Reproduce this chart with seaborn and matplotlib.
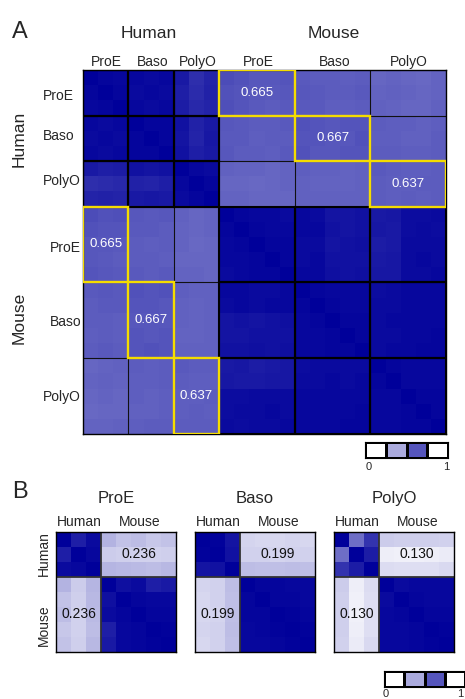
import numpy as np
import matplotlib
matplotlib.use("Agg")
import matplotlib.pyplot as plt
from matplotlib.colors import LinearSegmentedColormap, ListedColormap
from matplotlib.patches import Rectangle
import seaborn as sns

sns.set_style("white")
plt.rcParams['font.family'] = ['Liberation Sans', 'DejaVu Sans']

# ---- data (correlation x 100) ----
stages = ["ProE", "Baso", "PolyO"]
n_human = 3
n_mouse = 5

# panel A: human samples (3 per stage) vs mouse samples (5 per stage)
human_human = [
    [100, 98, 97, 97, 96, 97, 90, 82, 86],
    [98, 100, 98, 96, 97, 96, 88, 83, 87],
    [97, 98, 100, 97, 96, 97, 89, 84, 86],
    [97, 96, 97, 100, 98, 98, 93, 87, 90],
    [96, 97, 96, 98, 100, 98, 92, 86, 91],
    [97, 96, 97, 98, 98, 100, 93, 88, 90],
    [90, 88, 89, 93, 92, 93, 100, 97, 96],
    [82, 83, 84, 87, 86, 88, 97, 100, 98],
    [86, 87, 86, 90, 91, 90, 96, 98, 100],
]
human_mouse = [
    [70, 68, 66, 66, 67, 65, 64, 64, 63, 64, 60, 61, 60, 59, 61],
    [68, 67, 66, 65, 66, 66, 65, 64, 64, 65, 61, 62, 61, 60, 61],
    [69, 67, 65, 64, 65, 65, 65, 63, 63, 64, 62, 61, 60, 60, 62],
    [66, 65, 64, 64, 65, 68, 67, 66, 67, 67, 64, 63, 63, 62, 63],
    [65, 65, 63, 64, 64, 67, 67, 66, 66, 68, 63, 63, 62, 62, 64],
    [66, 64, 64, 63, 65, 68, 66, 66, 67, 67, 64, 64, 63, 63, 64],
    [62, 61, 61, 60, 61, 63, 62, 62, 61, 62, 65, 64, 63, 63, 64],
    [60, 60, 59, 60, 61, 62, 61, 61, 61, 62, 64, 63, 63, 64, 64],
    [61, 61, 60, 60, 60, 62, 62, 62, 62, 62, 64, 63, 64, 63, 64],
]
mouse_mouse = [
    [100, 98, 97, 97, 96, 97, 96, 92, 92, 93, 90, 91, 95, 95, 96],
    [98, 100, 98, 97, 97, 97, 97, 93, 92, 93, 91, 90, 95, 96, 95],
    [97, 98, 100, 98, 98, 96, 96, 92, 93, 94, 89, 90, 96, 96, 96],
    [97, 97, 98, 100, 98, 96, 97, 93, 93, 93, 90, 91, 96, 97, 96],
    [96, 97, 98, 98, 100, 97, 97, 94, 93, 94, 91, 91, 96, 96, 97],
    [97, 97, 96, 96, 97, 100, 98, 97, 97, 97, 95, 96, 97, 97, 97],
    [96, 97, 96, 97, 97, 98, 100, 98, 97, 97, 96, 96, 97, 97, 97],
    [92, 93, 92, 93, 94, 97, 98, 100, 98, 98, 96, 97, 97, 97, 97],
    [92, 92, 93, 93, 93, 97, 97, 98, 100, 98, 96, 96, 97, 97, 98],
    [93, 93, 94, 93, 94, 97, 97, 98, 98, 100, 96, 97, 97, 98, 98],
    [90, 91, 89, 90, 91, 95, 96, 96, 96, 96, 100, 98, 97, 97, 97],
    [91, 90, 90, 91, 91, 96, 96, 97, 96, 97, 98, 100, 97, 97, 97],
    [95, 95, 96, 96, 96, 97, 97, 97, 97, 97, 97, 97, 100, 98, 98],
    [95, 96, 96, 97, 96, 97, 97, 97, 97, 98, 97, 97, 98, 100, 98],
    [96, 95, 96, 96, 97, 97, 97, 97, 98, 98, 97, 97, 98, 98, 100],
]
cross_means_A = ["0.665", "0.667", "0.637"]

# panel B: per stage, 3 human + 5 mouse samples
proe_hh = [[100, 88, 96], [88, 100, 97], [96, 97, 100]]
proe_hm = [[30, 24, 26, 22, 24], [20, 19, 18, 18, 19], [29, 28, 27, 26, 28]]
proe_mm = [[100, 94, 96, 88, 90], [94, 100, 98, 97, 97], [96, 98, 100, 98, 98],
           [88, 97, 98, 100, 99], [90, 97, 98, 99, 100]]
baso_hh = [[100, 99, 92], [99, 100, 93], [92, 93, 100]]
baso_hm = [[17, 16, 16, 17, 16], [18, 18, 17, 18, 18], [26, 25, 25, 26, 25]]
baso_mm = [[100, 98, 98, 97, 97], [98, 100, 98, 98, 97], [98, 98, 100, 99, 98],
           [97, 98, 99, 100, 99], [97, 97, 98, 99, 100]]
polyo_hh = [[100, 57, 80], [57, 100, 89], [80, 89, 100]]
polyo_hm = [[20, 19, 19, 19, 18], [7, 6, 6, 7, 8], [14, 13, 13, 13, 15]]
polyo_mm = [[100, 96, 97, 97, 97], [96, 100, 98, 97, 97], [97, 98, 100, 98, 98],
            [97, 97, 98, 100, 99], [97, 97, 98, 99, 100]]
cross_means_B = ["0.236", "0.199", "0.130"]


def full_matrix(hh, hm, mm):
    hm = np.array(hm)
    return np.block([[np.array(hh), hm], [hm.T, np.array(mm)]]) / 100.0


cmap = LinearSegmentedColormap.from_list("wb", ["#ffffff", "#00009a"])
yellow = "#f5dc00"

W, H = 465, 699
fig = plt.figure(figsize=(W / 100, H / 100), dpi=100)


def add_ax(x0, y0, x1, y1):
    return fig.add_axes([x0 / W, 1 - y1 / H, (x1 - x0) / W, (y1 - y0) / H])


def ftext(x, y, s, **kw):
    fig.text(x / W, 1 - y / H, s, **kw)


def outline(ax, lw=1.0):
    for sp in ax.spines.values():
        sp.set_visible(True)
        sp.set_color("black")
        sp.set_linewidth(lw)


def colorbar_boxes(x0, y0, x1, y1):
    cax = add_ax(x0, y0, x1, y1)
    cols = [cmap(v) for v in [0, 1 / 3, 2 / 3, 1]]
    sns.heatmap([[0, 1, 2, 3]], cmap=ListedColormap(cols), cbar=False,
                linewidths=0.8, linecolor="black",
                xticklabels=False, yticklabels=False, ax=cax)
    outline(cax, 0.8)


# ---- panel A ----
matA = full_matrix(human_human, human_mouse, mouse_mouse)
axA = add_ax(83, 70, 446, 434)
sns.heatmap(matA, cmap=cmap, vmin=0, vmax=1, cbar=False,
            xticklabels=False, yticklabels=False, ax=axA)
bounds = [0, 3, 6, 9, 14, 19, 24]
for b in bounds[1:-1]:
    axA.axhline(b, color="#111111", lw=0.8)
    axA.axvline(b, color="#111111", lw=0.8)
# thicker borders inside each species
for lo, hi in [(0, 9), (9, 24)]:
    for i in range(len(bounds) - 1):
        for j in range(len(bounds) - 1):
            r0, r1 = bounds[i], bounds[i + 1]
            c0, c1 = bounds[j], bounds[j + 1]
            if lo <= r0 < hi and lo <= c0 < hi:
                axA.add_patch(Rectangle((c0, r0), c1 - c0, r1 - r0, fill=False,
                                        ec="black", lw=1.5, zorder=3))
# matched stages across species
for k in range(3):
    hr = 3 * k
    mr = 9 + 5 * k
    axA.add_patch(Rectangle((mr, hr), 5, 3, fill=False, ec=yellow, lw=1.7, zorder=4))
    axA.add_patch(Rectangle((hr, mr), 3, 5, fill=False, ec=yellow, lw=1.7, zorder=4))
    axA.text(mr + 2.5, hr + 1.5, cross_means_A[k], color="white", ha="center",
             va="center", fontsize=9.5, zorder=5)
    axA.text(hr + 1.5, mr + 2.5, cross_means_A[k], color="white", ha="center",
             va="center", fontsize=9.5, zorder=5)
outline(axA, 1.0)

ftext(12, 38, "A", fontsize=17, va="baseline")
ftext(149, 38, "Human", fontsize=12.5, ha="center", va="baseline")
ftext(334, 38, "Mouse", fontsize=12.5, ha="center", va="baseline")
col_centers = [106.5, 152.5, 197.5, 258.5, 334.5, 409]
for i, c in enumerate(col_centers):
    ftext(c, 66, stages[i % 3], fontsize=10, ha="center", va="baseline")
row_centers_h = [96, 136, 181]
row_centers_m = [248, 322, 397]
for i in range(3):
    ftext(43, row_centers_h[i], stages[i], fontsize=10, ha="left", va="center")
    ftext(81, row_centers_m[i], stages[i], fontsize=10, ha="right", va="center")
ftext(19, 139, "Human", fontsize=12.5, rotation=90, ha="center", va="center")
ftext(19, 318, "Mouse", fontsize=12.5, rotation=90, ha="center", va="center")

colorbar_boxes(365, 442, 448, 458)
ftext(369, 470, "0", fontsize=8, ha="center", va="baseline")
ftext(446, 470, "1", fontsize=8, ha="center", va="baseline")

# ---- panel B ----
ftext(12, 498, "B", fontsize=17, va="baseline")
panels_B = [(proe_hh, proe_hm, proe_mm), (baso_hh, baso_hm, baso_mm),
            (polyo_hh, polyo_hm, polyo_mm)]
lefts = [56, 195, 334]
for k, (hh, hm, mm) in enumerate(panels_B):
    x0 = lefts[k]
    ax = add_ax(x0, 532, x0 + 120, 652)
    sns.heatmap(full_matrix(hh, hm, mm), cmap=cmap, vmin=0, vmax=1, cbar=False,
                xticklabels=False, yticklabels=False, ax=ax)
    ax.axhline(n_human, color="#333333", lw=1.3)
    ax.axvline(n_human, color="#333333", lw=1.3)
    ax.text(n_human + n_mouse / 2, n_human / 2, cross_means_B[k], ha="center",
            va="center", fontsize=10, color="#111111")
    ax.text(n_human / 2, n_human + n_mouse / 2, cross_means_B[k], ha="center",
            va="center", fontsize=10, color="#111111")
    outline(ax, 1.0)
    ftext(x0 + 60, 503, stages[k], fontsize=12, ha="center", va="baseline")
    ftext(x0 + 23, 526, "Human", fontsize=10, ha="center", va="baseline")
    ftext(x0 + 84, 526, "Mouse", fontsize=10, ha="center", va="baseline")
ftext(44, 554, "Human", fontsize=10, rotation=90, ha="center", va="center")
ftext(44, 625, "Mouse", fontsize=10, rotation=90, ha="center", va="center")

colorbar_boxes(384, 671, 465, 687)
ftext(386, 697, "0", fontsize=8, ha="center", va="baseline")
ftext(460, 697, "1", fontsize=8, ha="center", va="baseline")

fig.savefig("out.png", dpi=100)
